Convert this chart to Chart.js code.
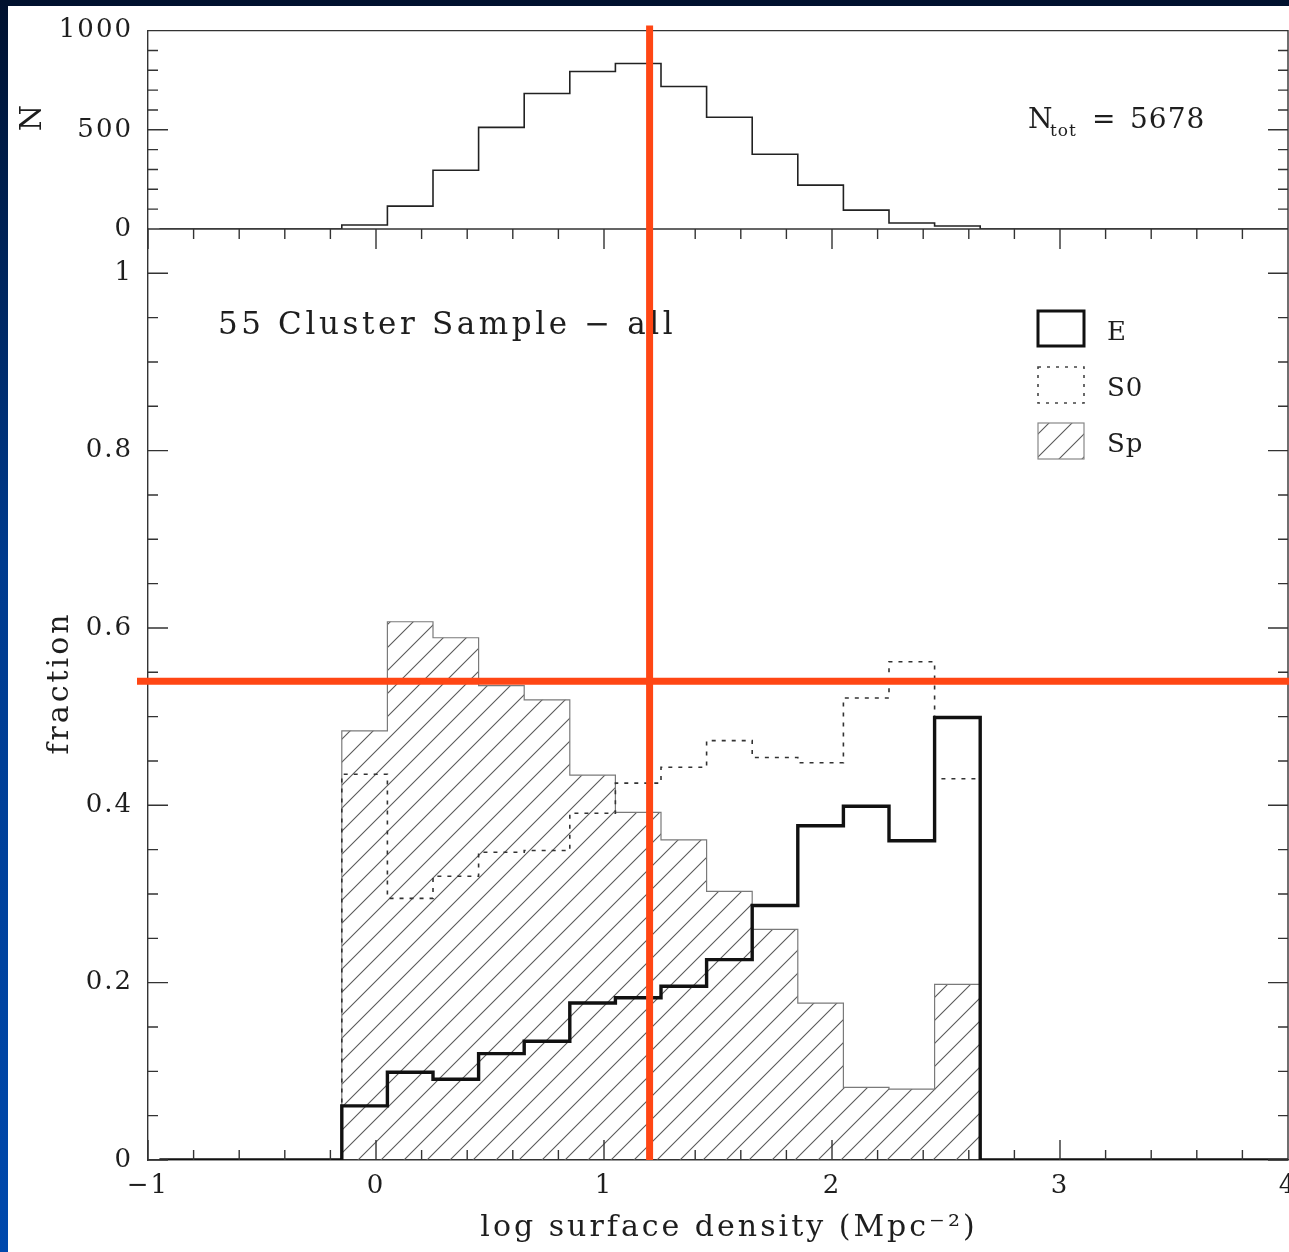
<!DOCTYPE html>
<html>
<head>
<meta charset="utf-8">
<script src="https://cdn.jsdelivr.net/npm/chart.js@4.4.1/dist/chart.umd.min.js"></script>
<style>
  html, body { margin: 0; padding: 0; }
  body {
    width: 1289px; height: 1252px; overflow: hidden; position: relative;
    background: linear-gradient(180deg, #00112e 0%, #003b8e 45%, #0049ad 100%);
  }
  #sheet { position: absolute; left: 8px; top: 6px; right: 0; bottom: 0; background: #fff; }
  #densityChart { position: absolute; left: 0; top: 0; }
</style>
</head>
<body>
<div id="sheet"></div>
<canvas id="densityChart" width="1320" height="1252"></canvas>
<script>
// log surface density bins, 0.2 wide (left edges plus the final right edge)
const binEdges = [-0.95, -0.75, -0.55, -0.35, -0.15, 0.05, 0.25, 0.45, 0.65, 0.85,
  1.05, 1.25, 1.45, 1.65, 1.85, 2.05, 2.25, 2.45, 2.65, 2.85, 3.05, 3.25, 3.45, 3.65, 3.85, 4.05];

// galaxies per bin (top panel)
const totalCounts = [0, 0, 0, 0, 20, 115, 296, 512, 683, 794, 834, 718, 563, 377, 221, 95, 30, 15,
  0, 0, 0, 0, 0, 0, 0];

// morphological fractions per bin (bottom panel)
const fracE = [0, 0, 0, 0, 0.061, 0.099, 0.091, 0.120, 0.134, 0.177, 0.183, 0.196, 0.226, 0.287,
  0.377, 0.399, 0.360, 0.499, 0, 0, 0, 0, 0, 0, 0];
const fracS0 = [0, 0, 0, 0, 0.435, 0.295, 0.320, 0.347, 0.349, 0.391, 0.425, 0.443, 0.473, 0.454,
  0.448, 0.521, 0.562, 0.430, 0, 0, 0, 0, 0, 0, 0];
const fracSp = [0, 0, 0, 0, 0.484, 0.607, 0.589, 0.535, 0.519, 0.434, 0.392, 0.361, 0.303, 0.260,
  0.177, 0.082, 0.080, 0.198, 0, 0, 0, 0, 0, 0, 0];

const xTicks = [-1, 0, 1, 2, 3, 4];
const countTicks = [0, 500, 1000];
const fracTicks = [0, 0.2, 0.4, 0.6, 0.8, 1];

// red cross marking the reference density / fraction
const markDensity = 1.2;
const markFraction = 0.54;

const serif = "'DejaVu Serif', serif";
const ink = '#1e1e1e';

function stepData(values) {
  const pts = values.map((v, i) => ({ x: binEdges[i], y: v }));
  pts.push({ x: binEdges[values.length], y: values[values.length - 1] });
  return pts;
}

function makeHatch() {
  const size = 23;
  const c = document.createElement('canvas');
  c.width = size; c.height = size;
  const g = c.getContext('2d');
  g.strokeStyle = '#5a5a5a';
  g.lineWidth = 1.1;
  g.beginPath();
  g.moveTo(-2, size + 2); g.lineTo(size + 2, -2);
  g.moveTo(-2, 2); g.lineTo(2, -2);
  g.moveTo(size - 2, size + 2); g.lineTo(size + 2, size - 2);
  g.stroke();
  return g.createPattern(c, 'repeat');
}
const hatch = makeHatch();

// inward tick marks, frame and the extra labels
const framePlugin = {
  id: 'frame',
  beforeDraw(chart) {
    chart.ctx.letterSpacing = '2px';
  },
  afterDatasetsDraw(chart) {
    const { ctx, chartArea: a, scales: { x, yN, yF } } = chart;
    ctx.save();
    ctx.strokeStyle = '#333';
    ctx.lineWidth = 1.4;
    ctx.beginPath();
    ctx.moveTo(a.left, a.top); ctx.lineTo(a.right, a.top); ctx.lineTo(a.right, a.bottom);
    ctx.moveTo(a.left, yF.top); ctx.lineTo(a.right, yF.top);

    const yAxes = [[yN, 100, 500, 1000], [yF, 0.05, 0.2, 1]];
    for (const [scale, minor, major, top] of yAxes) {
      const n = Math.round(top / minor);
      for (let k = 0; k <= n; k++) {
        const v = k * minor;
        const len = Math.abs(v / major - Math.round(v / major)) < 1e-6 ? 20 : 10;
        const py = scale.getPixelForValue(v);
        ctx.moveTo(a.left, py); ctx.lineTo(a.left + len, py);
        ctx.moveTo(a.right, py); ctx.lineTo(a.right - len, py);
      }
    }
    const nx = Math.round((4 - (-1)) / 0.2);
    for (let k = 0; k <= nx; k++) {
      const v = -1 + k * 0.2;
      const len = Math.abs(v - Math.round(v)) < 1e-6 ? 20 : 10;
      const px = x.getPixelForValue(v);
      ctx.moveTo(px, a.bottom); ctx.lineTo(px, a.bottom - len);
      ctx.moveTo(px, yF.top); ctx.lineTo(px, yF.top + len);
    }
    ctx.stroke();
    ctx.restore();
  },
  afterDraw(chart) {
    const { ctx, chartArea: a, scales: { x, yF } } = chart;
    ctx.save();
    ctx.fillStyle = ink;
    ctx.textBaseline = 'middle';
    ctx.textAlign = 'center';

    // axis titles
    ctx.letterSpacing = '2px';
    ctx.font = `30px ${serif}`;
    ctx.save(); ctx.translate(33, 117); ctx.rotate(-Math.PI / 2); ctx.fillText('N', 0, 0); ctx.restore();
    ctx.letterSpacing = '3px';
    ctx.save(); ctx.translate(60, 683); ctx.rotate(-Math.PI / 2); ctx.fillText('fraction', 0, 0); ctx.restore();
    ctx.fillText('log surface density (Mpc\u207B\u00B2)', 729, 1228);

    // panel annotations
    ctx.textAlign = 'left';
    ctx.textBaseline = 'alphabetic';
    ctx.letterSpacing = '3.6px';
    ctx.font = `31px ${serif}`;
    ctx.fillText('55 Cluster Sample \u2212 all', 218, 334);

    ctx.letterSpacing = '1px';
    ctx.font = `28px ${serif}`;
    ctx.fillText('N', 1028, 128);
    ctx.fillText('=', 1092, 128);
    ctx.fillText('5678', 1130, 128);
    ctx.font = `17px ${serif}`;
    ctx.fillText('tot', 1050, 136);

    // legend
    ctx.font = `26px ${serif}`;
    ctx.fillText('E', 1107, 340);
    ctx.fillText('S0', 1107, 396);
    ctx.fillText('Sp', 1107, 452);
    ctx.strokeStyle = '#111';
    ctx.lineWidth = 3;
    ctx.strokeRect(1038, 311, 46, 35);
    ctx.setLineDash([3, 6]);
    ctx.lineWidth = 1.6;
    ctx.strokeStyle = '#444';
    ctx.strokeRect(1038, 367, 46, 36);
    ctx.setLineDash([]);
    ctx.fillStyle = hatch;
    ctx.fillRect(1038, 423, 46, 36);
    ctx.strokeStyle = '#888';
    ctx.lineWidth = 1.2;
    ctx.strokeRect(1038, 423, 46, 36);

    // reference cross
    const cx = x.getPixelForValue(markDensity);
    const cy = yF.getPixelForValue(markFraction);
    ctx.strokeStyle = '#ff4614';
    ctx.lineWidth = 7;
    ctx.beginPath();
    ctx.moveTo(cx, a.top - 5); ctx.lineTo(cx, a.bottom);
    ctx.moveTo(a.left - 11, cy); ctx.lineTo(a.right + 40, cy);
    ctx.stroke();
    ctx.restore();
  }
};

const tickFont = { family: serif, size: 26 };

new Chart(document.getElementById('densityChart'), {
  type: 'line',
  data: {
    datasets: [
      { label: 'E', data: stepData(fracE), yAxisID: 'yF', borderColor: '#111', borderWidth: 3.4,
        stepped: true, pointRadius: 0, fill: false },
      { label: 'S0', data: stepData(fracS0), yAxisID: 'yF', borderColor: '#333', borderWidth: 1.6,
        borderDash: [4, 6], stepped: true, pointRadius: 0, fill: false },
      { label: 'Sp', data: stepData(fracSp), yAxisID: 'yF', borderColor: '#7a7a7a', borderWidth: 1.2,
        backgroundColor: hatch, fill: 'origin', stepped: true, pointRadius: 0 },
      { label: 'N', data: stepData(totalCounts), yAxisID: 'yN', borderColor: '#222', borderWidth: 1.6,
        stepped: true, pointRadius: 0, fill: false },
    ],
  },
  options: {
    responsive: false,
    animation: false,
    events: [],
    layout: { padding: { left: 0, top: 27, right: 32, bottom: 0 } },
    plugins: { legend: { display: false }, tooltip: { enabled: false } },
    scales: {
      x: {
        type: 'linear', position: 'bottom', min: -1, max: 4,
        afterBuildTicks: (s) => { s.ticks = xTicks.map((v) => ({ value: v })); },
        afterFit: (s) => { s.height = 92; },
        grid: { display: false, drawTicks: false },
        border: { display: true, color: '#333', width: 1.4 },
        ticks: { font: tickFont, color: ink, padding: 11,
          callback: (v) => (v < 0 ? '\u2212' + Math.abs(v) : String(v)) },
      },
      yF: {
        type: 'linear', position: 'left', stack: 'panels', stackWeight: 934, min: 0, max: 1.05,
        afterBuildTicks: (s) => { s.ticks = fracTicks.map((v) => ({ value: v })); },
        afterFit: (s) => { s.width = 148; },
        grid: { display: false, drawTicks: false },
        border: { display: true, color: '#333', width: 1.4 },
        ticks: { font: tickFont, color: ink, padding: 15,
          callback: (v) => String(+v.toFixed(2)) },
      },
      yN: {
        type: 'linear', position: 'left', stack: 'panels', stackWeight: 199, min: 0, max: 1000,
        afterBuildTicks: (s) => { s.ticks = countTicks.map((v) => ({ value: v })); },
        afterFit: (s) => { s.width = 148; },
        grid: { display: false, drawTicks: false },
        border: { display: true, color: '#333', width: 1.4 },
        ticks: { font: tickFont, color: ink, padding: 15, callback: (v) => String(v) },
      },
    },
  },
  plugins: [framePlugin],
});
</script>
</body>
</html>
